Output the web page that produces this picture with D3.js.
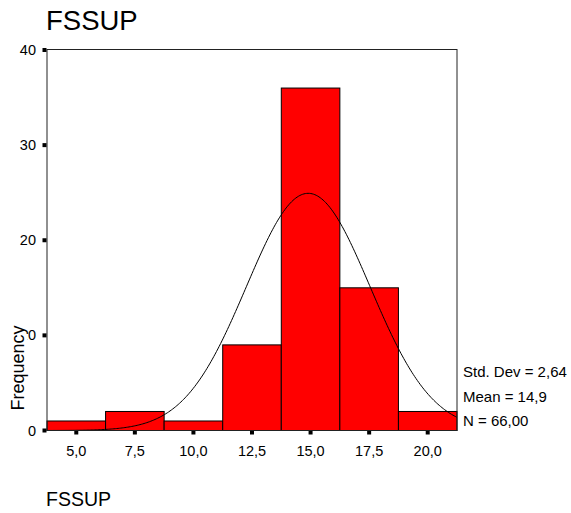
<!DOCTYPE html>
<html>
<head>
<meta charset="utf-8">
<script src="https://cdn.jsdelivr.net/npm/d3@7"></script>
<style>
  html, body { margin: 0; padding: 0; background: #fff; }
  svg { display: block; font-family: Arial, "Liberation Sans", sans-serif; }
</style>
</head>
<body>
<svg id="chart" width="571" height="513"></svg>
<script>
// Histogram of FSSUP with fitted normal curve
const binCenters = [5, 7.5, 10, 12.5, 15, 17.5, 20];
const frequencies = [1, 2, 1, 9, 36, 15, 2];
const binWidth = 2.5;
const xTicks = [5, 7.5, 10, 12.5, 15, 17.5, 20];
const yTicks = [0, 10, 20, 30, 40];
const statLabels = ["Std. Dev = 2,64", "Mean = 14,9", "N = 66,00"];
const meanValue = 14.9;
const sdValue = 2.64;
const nValue = 66;

const svg = d3.select("#chart");
const plotLeft = 47, plotRight = 457, plotTop = 50, plotBottom = 430.5;

const x = d3.scaleLinear().domain([3.75, 21.25]).range([plotLeft, plotRight]);
const y = d3.scaleLinear().domain([0, 40]).range([plotBottom, plotTop]);

const locale = d3.formatLocale({ decimal: ",", thousands: ".", grouping: [3], currency: ["", ""] });
const fmt1 = locale.format(".1f");

// Title
svg.append("text").attr("x", 46).attr("y", 30)
  .attr("font-size", 27.5).attr("fill", "#000").text("FSSUP");

// Bars
svg.append("g").selectAll("rect").data(binCenters).join("rect")
  .attr("x", d => x(d - binWidth / 2))
  .attr("y", (d, i) => y(frequencies[i]))
  .attr("width", d => x(d + binWidth / 2) - x(d - binWidth / 2))
  .attr("height", (d, i) => y(0) - y(frequencies[i]))
  .attr("fill", "#ff0000")
  .attr("stroke", "#000")
  .attr("stroke-width", 1);

// Fitted normal curve
const peak = nValue * binWidth / (sdValue * Math.sqrt(2 * Math.PI));
const curvePts = d3.range(0, 301).map(k => {
  const v = 3.75 + (21.25 - 3.75) * k / 300;
  const z = (v - meanValue) / sdValue;
  return [v, peak * Math.exp(-0.5 * z * z)];
});
svg.append("path").datum(curvePts)
  .attr("fill", "none").attr("stroke", "#000").attr("stroke-width", 1)
  .attr("d", d3.line().x(d => x(d[0])).y(d => y(d[1])));

// Frame
svg.append("rect")
  .attr("x", plotLeft).attr("y", plotTop - 0.5)
  .attr("width", plotRight - plotLeft).attr("height", plotBottom - plotTop + 0.5)
  .attr("fill", "none").attr("stroke", "#222").attr("stroke-width", 1);

// Y axis ticks and labels
const yAxis = svg.append("g");
yAxis.selectAll("rect").data(yTicks).join("rect")
  .attr("x", plotLeft - 4.5).attr("y", d => y(d) - 2)
  .attr("width", 4).attr("height", 4).attr("fill", "#000");
yAxis.selectAll("text").data(yTicks).join("text")
  .attr("x", 36).attr("y", d => y(d) + 5)
  .attr("text-anchor", "end").attr("font-size", 14.5).text(d => d3.format("d")(d));

// X axis ticks and labels
const xAxis = svg.append("g");
xAxis.selectAll("rect").data(xTicks).join("rect")
  .attr("x", d => x(d) - 2).attr("y", plotBottom + 0.5)
  .attr("width", 4).attr("height", 3.5).attr("fill", "#000");
xAxis.selectAll("text").data(xTicks).join("text")
  .attr("x", d => x(d)).attr("y", 456)
  .attr("text-anchor", "middle").attr("font-size", 14.5).text(d => fmt1(d));

// Y axis title on a white backing
const yTitle = svg.append("g").attr("transform", "translate(23.5,368) rotate(-90)");
const yBg = yTitle.append("rect").attr("fill", "#fff");
const yText = yTitle.append("text").attr("text-anchor", "middle")
  .attr("font-size", 18).text("Frequency");
const bb = yText.node().getBBox();
yBg.attr("x", bb.x).attr("y", bb.y).attr("width", bb.width).attr("height", bb.height);

// Summary statistics
svg.append("g").selectAll("text").data(statLabels).join("text")
  .attr("x", 463).attr("y", (d, i) => 377 + i * 24.5)
  .attr("font-size", 15).text(d => d);

// Variable label below the axis
svg.append("text").attr("x", 46).attr("y", 506)
  .attr("font-size", 19.5).text("FSSUP");
</script>
</body>
</html>
